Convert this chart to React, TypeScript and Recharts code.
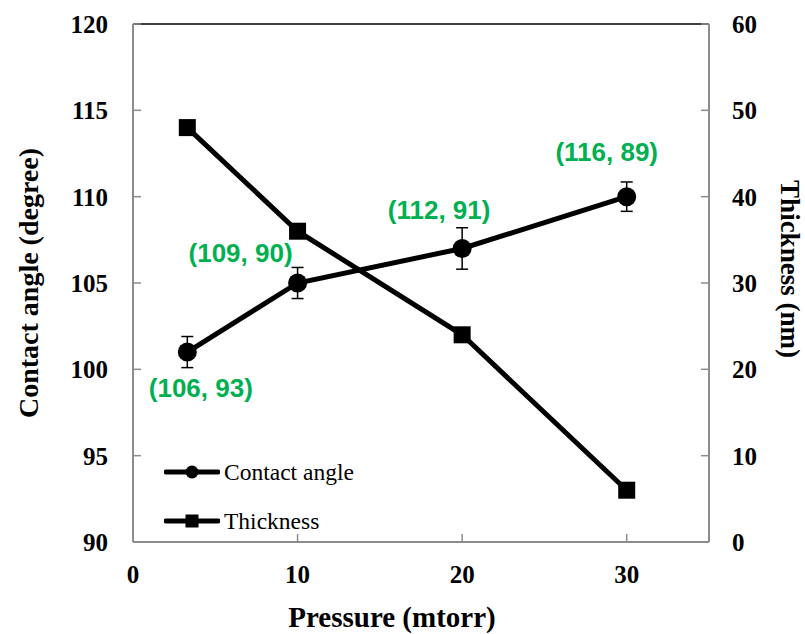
import React from "react"
import {
    ComposedChart,
    Line,
    XAxis,
    YAxis,
    ErrorBar,
    LabelList,
    Label,
    Legend,
    ReferenceLine,
} from "recharts"

// Deposition pressure (mtorr) and the measured film properties
const pressure = [3.3, 10, 20, 30]
const contactAngle = [101, 105, 107, 110]
const contactAngleErr = [0.9, 0.9, 1.2, 0.85]
const thickness = [48, 36, 24, 6]
const pointLabels = ["(106, 93)", "(109, 90)", "(112, 91)", "(116, 89)"]

const xTicks = [0, 10, 20, 30]
const angleTicks = [90, 95, 100, 105, 110, 115, 120]
const thicknessTicks = [0, 10, 20, 30, 40, 50, 60]

const data = pressure.map((p, i) => ({
    pressure: p,
    angle: contactAngle[i],
    angleErr: contactAngleErr[i],
    thickness: thickness[i],
    label: pointLabels[i],
}))

const AXIS_GREY = "#8c8c8c"
const LABEL_GREEN = "#00b050"
const SERIF = "'Liberation Serif', 'Times New Roman', serif"
const SANS = "'Liberation Sans', Arial, sans-serif"

const tickStyle = { fontFamily: SERIF, fontWeight: 700, fontSize: 25, fill: "#000" }

// offsets of the green annotations relative to their point (dx, baseline dy)
const labelShift: [number, number][] = [
    [13.5, 45],
    [-57, -21],
    [-23, -29],
    [-20, -36],
]

function renderPointLabel(props: any) {
    const { x, y, index, value } = props
    const [dx, dy] = labelShift[index] || [0, -20]
    return (
        <text
            x={x + dx}
            y={y + dy}
            textAnchor="middle"
            fontFamily={SANS}
            fontWeight={700}
            fontSize={26}
            fill={LABEL_GREEN}
        >
            {value}
        </text>
    )
}

function SquareDot(props: any) {
    const { cx, cy, size = 17 } = props
    if (cx == null || cy == null) return null
    return <rect x={cx - size / 2} y={cy - size / 2} width={size} height={size} fill="#000" />
}

function LeftTitle({ viewBox }: any) {
    const cx = viewBox.x + 28
    const cy = viewBox.y + viewBox.height / 2
    return (
        <text
            x={cx}
            y={cy}
            transform={`rotate(-90, ${cx}, ${cy})`}
            textAnchor="middle"
            dominantBaseline="central"
            fontFamily={SERIF}
            fontWeight={700}
            fontSize={28}
            fill="#000"
        >
            Contact angle (degree)
        </text>
    )
}

function RightTitle({ viewBox }: any) {
    const cx = viewBox.x + 81
    const cy = viewBox.y + viewBox.height / 2 - 14
    return (
        <text
            x={cx}
            y={cy}
            transform={`rotate(90, ${cx}, ${cy})`}
            textAnchor="middle"
            dominantBaseline="central"
            fontFamily={SERIF}
            fontWeight={700}
            fontSize={27}
            fill="#000"
        >
            Thickness (nm)
        </text>
    )
}

function BottomTitle({ viewBox }: any) {
    const cx = viewBox.x + viewBox.width / 2 - 29
    const cy = viewBox.y + 75
    return (
        <text
            x={cx}
            y={cy}
            textAnchor="middle"
            dominantBaseline="central"
            fontFamily={SERIF}
            fontWeight={700}
            fontSize={29}
            fill="#000"
        >
            Pressure (mtorr)
        </text>
    )
}

function LegendBox() {
    const rows = [
        { name: "Contact angle", marker: "circle" },
        { name: "Thickness", marker: "square" },
    ]
    return (
        <div style={{ display: "flex", flexDirection: "column", gap: 29 }}>
            {rows.map((r) => (
                <div key={r.name} style={{ display: "flex", alignItems: "center", height: 20 }}>
                    <svg width={56} height={20} style={{ marginRight: 4 }}>
                        <line x1={2} y1={10} x2={54} y2={10} stroke="#000" strokeWidth={5} strokeLinecap="round" />
                        {r.marker === "circle" ? (
                            <circle cx={28} cy={10} r={6.5} fill="#000" />
                        ) : (
                            <rect x={21.5} y={3.5} width={13} height={13} fill="#000" />
                        )}
                    </svg>
                    <span style={{ fontFamily: SERIF, fontSize: 23.5, color: "#000", lineHeight: "20px" }}>{r.name}</span>
                </div>
            ))}
        </div>
    )
}

export default function App() {
    return (
        <div style={{ position: "absolute", left: 0, top: 0, width: 805, height: 634, background: "#fff" }}>
            <ComposedChart width={805} height={634} data={data} margin={{ top: 24, right: 0, bottom: 0, left: 0 }}>
                <XAxis
                    dataKey="pressure"
                    type="number"
                    domain={[0, 35]}
                    ticks={xTicks}
                    interval={0}
                    height={92}
                    axisLine={{ stroke: AXIS_GREY, strokeWidth: 2 }}
                    tickLine={{ stroke: AXIS_GREY, strokeWidth: 1.5 }}
                    tickSize={-8}
                    tickMargin={31}
                    tick={tickStyle}
                >
                    <Label content={BottomTitle} />
                </XAxis>
                <YAxis
                    yAxisId="left"
                    domain={[90, 120]}
                    ticks={angleTicks}
                    interval={0}
                    width={133}
                    axisLine={{ stroke: AXIS_GREY, strokeWidth: 2 }}
                    tickLine={{ stroke: AXIS_GREY, strokeWidth: 1.5 }}
                    tickSize={-8}
                    tickMargin={33}
                    tick={tickStyle}
                >
                    <Label content={LeftTitle} />
                </YAxis>
                <YAxis
                    yAxisId="right"
                    orientation="right"
                    domain={[0, 60]}
                    ticks={thicknessTicks}
                    interval={0}
                    width={96}
                    axisLine={{ stroke: AXIS_GREY, strokeWidth: 2 }}
                    tickLine={{ stroke: AXIS_GREY, strokeWidth: 1.5 }}
                    tickSize={-8}
                    tickMargin={31}
                    tick={tickStyle}
                >
                    <Label content={RightTitle} />
                </YAxis>
                {/* closing line along the top of the plot area */}
                <ReferenceLine yAxisId="left" y={120} stroke="#000" strokeWidth={1.5} />
                <Line
                    yAxisId="right"
                    dataKey="thickness"
                    name="Thickness"
                    stroke="#000"
                    strokeWidth={5}
                    dot={<SquareDot />}
                    activeDot={false}
                    isAnimationActive={false}
                />
                <Line
                    yAxisId="left"
                    dataKey="angle"
                    name="Contact angle"
                    stroke="#000"
                    strokeWidth={5}
                    dot={{ r: 9.5, fill: "#000", stroke: "none" }}
                    activeDot={false}
                    isAnimationActive={false}
                >
                    <ErrorBar
                        dataKey="angleErr"
                        direction="y"
                        width={6}
                        stroke="#000"
                        strokeWidth={1.5}
                        isAnimationActive={false}
                    />
                    <LabelList dataKey="label" content={renderPointLabel} />
                </Line>
                <Legend
                    layout="vertical"
                    align="center"
                    verticalAlign="middle"
                    content={<LegendBox />}
                    wrapperStyle={{ left: 164, top: 462, width: 240, height: 70 }}
                />
            </ComposedChart>
        </div>
    )
}
